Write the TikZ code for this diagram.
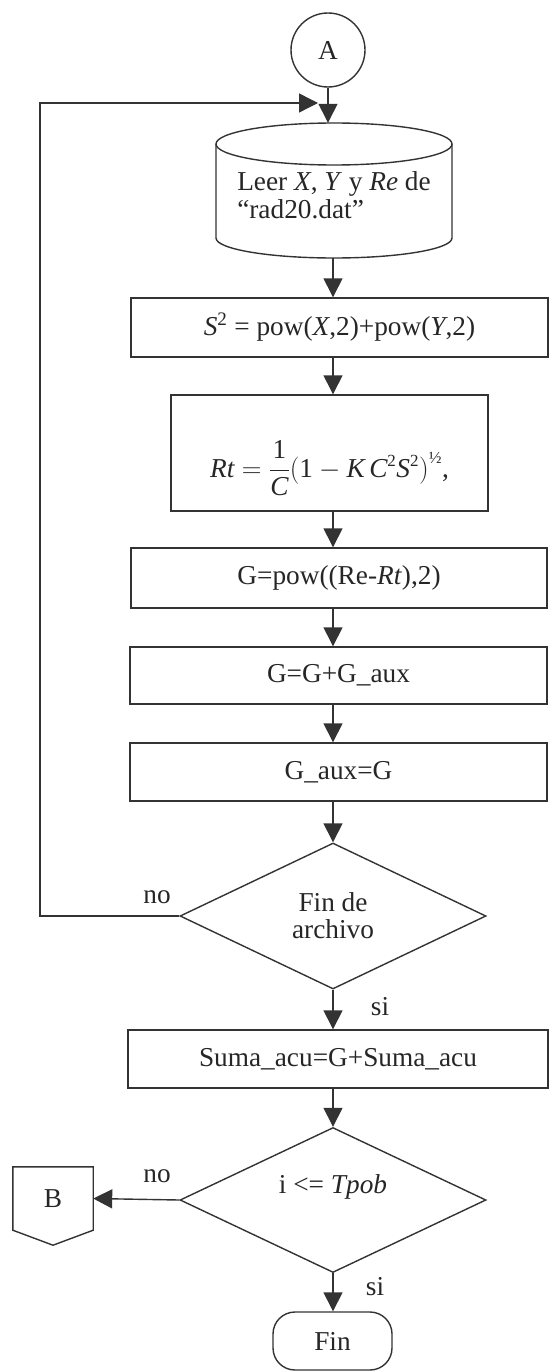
\documentclass[tikz,border=0pt]{standalone}
\usepackage{fix-cm}
\usepackage{graphicx}
\usepackage{fontspec}
\setmainfont{Liberation Serif}
\usetikzlibrary{shapes.geometric,arrows.meta,calc}
\newcommand{\smallsup}[1]{\mbox{\fontsize{17}{17}\selectfont #1}}
\tikzset{
  ln/.style={draw=black!80, line width=1.4pt},
  arr/.style={draw=black!80, line width=1.4pt, -{Triangle[length=19pt,width=19pt]}},
  box/.style={ln, rectangle, inner sep=0pt, align=center},
  dec/.style={ln, diamond, inner sep=0pt, align=center},
  lbl/.style={inner sep=0pt},
  every node/.style={font=\fontsize{27.3}{31}\selectfont, text=black!85}
}
\begin{document}
\begin{tikzpicture}[x=1pt,y=-1pt]
\useasboundingbox (0,0) rectangle (554,1372);
\coordinate (col) at (333,0);

% connector A
\node[ln, circle, minimum size=74pt, inner sep=0pt] (A) at (328,50) {A};

% cylinder (data input)
\node[inner sep=0pt, minimum width=236pt, minimum height=135pt, align=left] (cyl) at (334,190.5)
  {\raisebox{-15pt}[0pt][0pt]{\begin{tabular}{@{}l@{}}Leer \textit{X}, \textit{Y} y \textit{Re} de\\[-3pt] “rad20.dat”\end{tabular}}};
\draw[ln] (334,144) ellipse [x radius=118, y radius=21];
\draw[ln] (216,144) -- (216,238) arc[start angle=180, end angle=0, x radius=118, y radius=20] -- (452,144);

% process boxes
\node[box, minimum width=417pt, minimum height=59pt] (r1) at (339.5,327.5)
  {\textit{S}\textsuperscript{2} = pow(\textit{X},2)+pow(\textit{Y},2)};
\node[box, minimum width=317pt, minimum height=116pt] (r2) at (329.5,453)
  {\raisebox{-24pt}[0pt][0pt]{$\textit{Rt} = {\displaystyle\frac{\textrm{1}}{\textit{C}}}\Bigl(\textrm{1} - \textit{K}\,\textit{C}^{\smallsup{2}}\textit{S}^{\smallsup{2}}\Bigr)^{\smallsup{½}}$,}};
\node[box, minimum width=416pt, minimum height=60pt] (r3) at (339,578)
  {G=pow((Re-\textit{Rt}),2)};
\node[box, minimum width=417pt, minimum height=57pt] (r4) at (338.5,675.5)
  {G=G+G\_aux};
\node[box, minimum width=417pt, minimum height=58pt] (r5) at (338.5,772)
  {G\_aux=G};

% decision 1
\node[dec, minimum width=306pt, minimum height=146pt] (d1) at (333,916)
  {Fin de\\[-4pt]archivo};

\node[box, minimum width=420pt, minimum height=58pt] (r6) at (338,1059)
  {Suma\_acu=G+Suma\_acu};

% decision 2
\node[dec, minimum width=306pt, minimum height=145pt] (d2) at (333,1200)
  {\raisebox{7pt}[0pt][0pt]{i <= \textit{Tpob}}};

% off-page connector B
\node[inner sep=0pt, minimum width=80pt, minimum height=63pt] (B) at (53,1198.5) {B};
\draw[ln] (B.north west) -- (B.north east) -- (B.south east) -- ($(B.south)+(0,15)$) -- (B.south west) -- cycle;

% terminal
\node[ln, rounded corners=22pt, minimum width=119pt, minimum height=58pt, inner sep=0pt] (fin) at (332.5,1341) {Fin};

% labels
\node[lbl] (no1) at (157,897) {no};
\node[lbl] (si1) at (380,1007) {si};
\node[lbl] (no2) at (157,1176) {no};
\node[lbl] (si2) at (375,1287) {si};

% connectors
\coordinate (loopcorner) at (40,103);
\coordinate (loopend) at (318,103);
\draw[arr] (A.south) -- (A.south |- cyl.north);
\draw[arr] (cyl.south -| col) -- (r1.north -| col);
\draw[arr] (r1.south -| col) -- (r2.north -| col);
\draw[arr] (r2.south -| col) -- (r3.north -| col);
\draw[arr] (r3.south -| col) -- (r4.north -| col);
\draw[arr] (r4.south -| col) -- (r5.north -| col);
\draw[arr] (r5.south -| col) -- (d1.north);
\draw[arr] (d1.south) -- (r6.north -| col);
\draw[arr] (r6.south -| col) -- (d2.north);
\draw[arr] (d2.west) -- (B.east);
\draw[arr] (d2.south) -- (d2.south |- fin.north);
\draw[arr] (d1.west) -| (loopcorner) -- (loopend);
\end{tikzpicture}
\end{document}
